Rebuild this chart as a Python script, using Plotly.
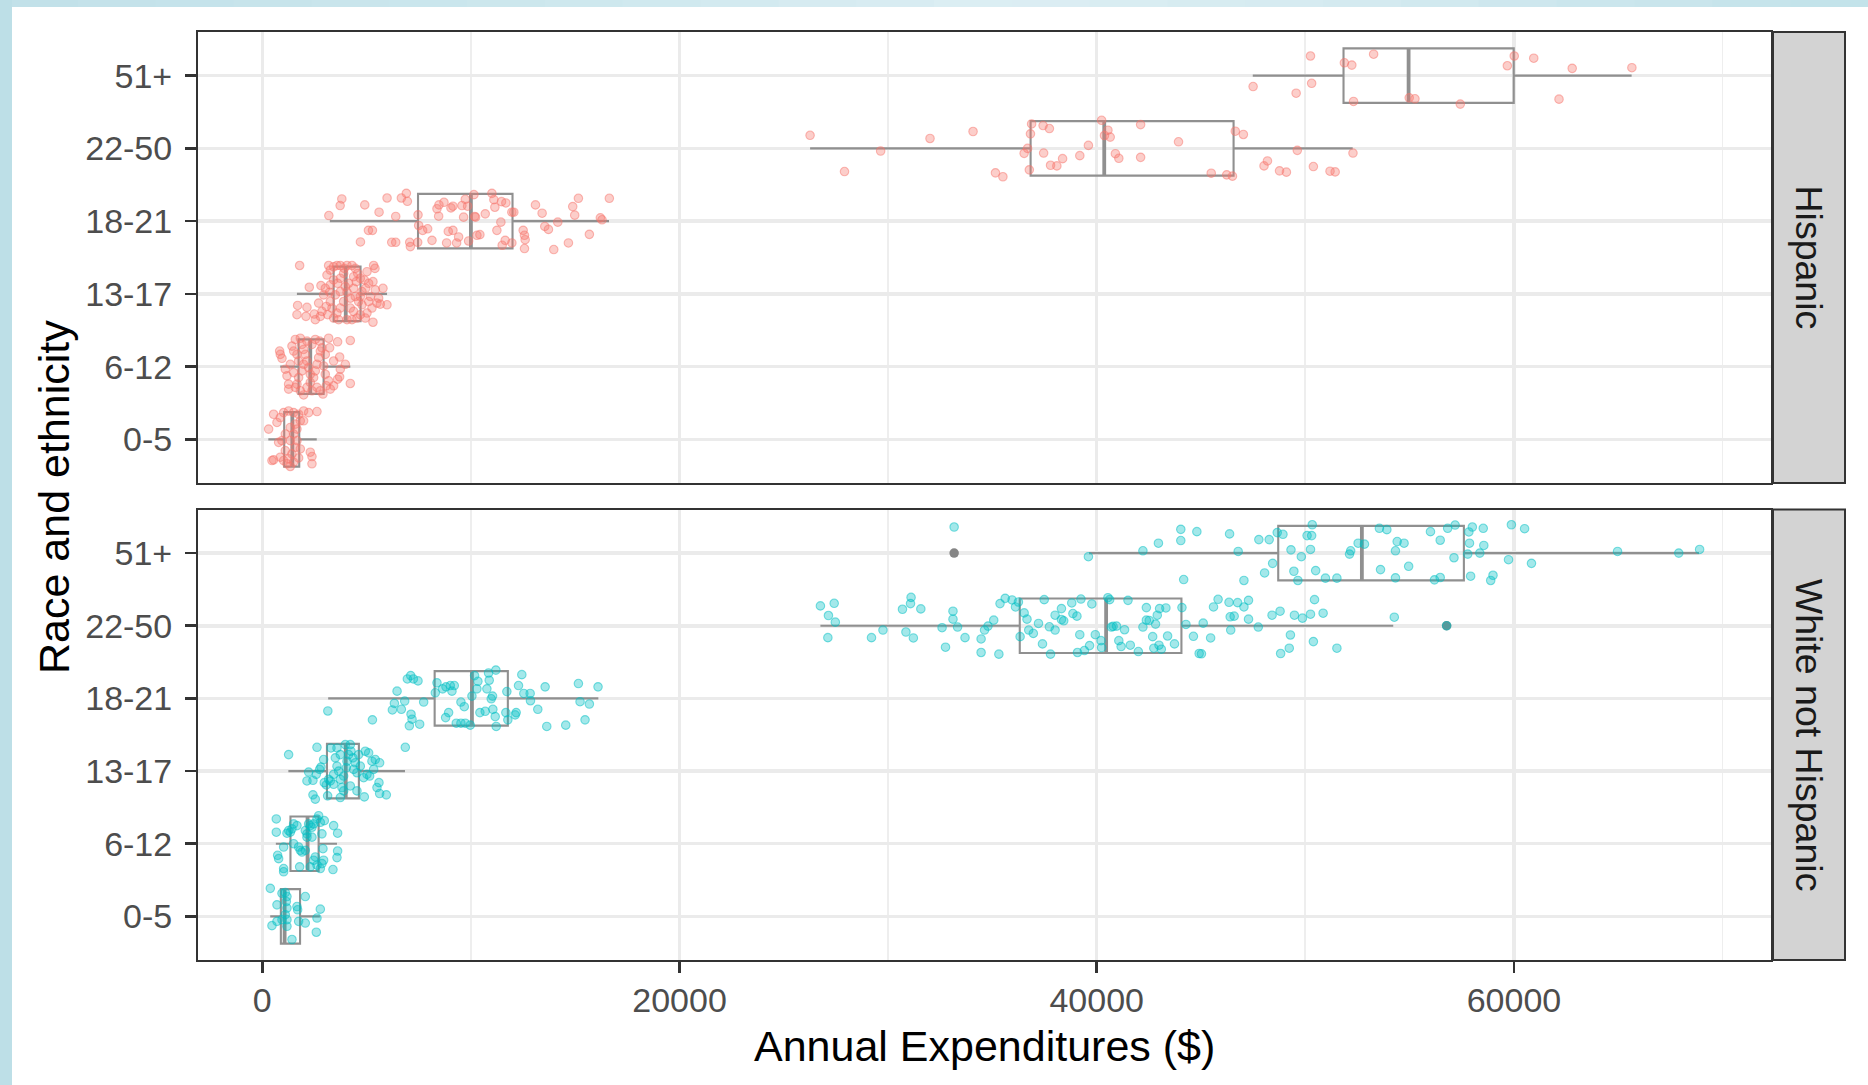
import plotly.graph_objects as go

# ---------------- data ----------------
age_groups = ["0-5", "6-12", "13-17", "18-21", "22-50", "51+"]
x_tick_vals = [0, 20000, 40000, 60000]
x_minor_vals = [10000, 30000, 50000, 70000]
facet_labels = ["Hispanic", "White not Hispanic"]

# box-plot statistics (per age cohort, in order of age_groups)
hisp_q1 = [1050, 1740, 3420, 7465, 36830, 51830]
hisp_med = [1440, 2300, 4000, 10000, 40360, 54950]
hisp_q3 = [1770, 2940, 4710, 11995, 46560, 59990]
hisp_lo = [290, 860, 1660, 3238, 26260, 47480]
hisp_hi = [2610, 4220, 5980, 16620, 52270, 65640]

white_q1 = [890, 1350, 3100, 8262, 36310, 48700]
white_med = [1070, 2170, 4000, 10049, 40450, 52710]
white_q3 = [1810, 2700, 4630, 11771, 44060, 57600]
white_lo = [380, 650, 1250, 3158, 26754, 39630]
white_hi = [2760, 3580, 6840, 16110, 54213, 68870]

white_outlier_exp = [33164, 56773]
white_outlier_age = ["51+", "22-50"]

# jittered individual consumers: expenditure ($) and vertical jitter (fraction of a row)
hisp_0_5_exp = [304, 543, 703, 863, 1023, 1262, 1502, 1742, 1982, 2221, 2621, 783, 943, 1103, 1342, 1502, 1662, 1582, 1422, 1262, 1183, 1023, 863, 543, 463, 1342, 1502, 1742, 1822, 2301, 2381, 2381, 1982, 1582, 1342, 1103, 1662, 1822]
hisp_0_5_jit = [0.141, 0.345, 0.232, 0.3, 0.368, 0.39, 0.368, 0.345, 0.39, 0.368, 0.382, -0.041, -0.018, 0.073, 0.164, 0.073, -0.018, -0.109, -0.2, -0.268, -0.336, -0.291, -0.245, -0.282, -0.291, -0.373, -0.314, -0.255, -0.132, -0.177, -0.236, -0.336, 0.255, 0.209, -0.018, -0.155, 0.141, 0.255]

hisp_6_12_exp = [831, 863, 943, 1103, 1183, 1262, 1262, 1422, 1502, 1582, 1662, 1742, 1822, 1902, 1982, 2061, 2141, 1982, 1902, 1742, 1662, 1582, 1822, 1982, 2141, 2301, 2461, 2541, 2621, 2701, 2781, 2749, 2860, 3020, 3180, 3228, 3420, 3611, 3707, 3739, 3707, 3611, 3420, 3260, 3068, 2908, 2781, 2621, 2381, 2301, 2221, 2940, 3020, 3180, 3979, 4219, 4219, 1342, 1502, 2141, 2381, 2541]
hisp_6_12_jit = [0.214, 0.168, 0.114, -0.036, -0.127, -0.241, -0.309, 0.282, 0.214, 0.373, 0.168, 0.077, 0.39, 0.305, 0.236, 0.168, 0.077, 0.032, -0.059, -0.15, -0.241, -0.286, -0.332, -0.39, -0.286, -0.218, -0.15, -0.059, 0.032, 0.123, 0.214, 0.35, 0.259, 0.168, 0.39, 0.259, 0.077, 0.341, 0.132, -0.036, -0.141, -0.173, -0.264, -0.309, -0.264, -0.377, -0.332, -0.286, -0.332, -0.105, -0.014, 0.009, -0.105, -0.195, 0.032, 0.359, -0.232, 0.032, -0.082, 0.35, 0.305, 0.373]

hisp_13_17_exp = [1790, 2253, 1694, 2141, 1662, 2093, 2493, 2541, 2781, 2860, 3068, 3132, 2812, 3020, 3100, 3260, 3180, 3420, 3580, 3739, 3931, 4059, 4299, 4458, 4570, 4698, 4890, 5098, 5305, 5401, 5337, 5018, 5417, 5785, 5577, 5497, 5657, 5977, 5257, 5018, 4938, 5305, 4698, 4538, 4219, 4219, 3899, 3739, 3580, 3420, 3260, 3500, 3739, 3979, 4139, 4379, 4458, 4778, 4618, 3739, 3420, 3260, 3659, 4059, 4379, 2940, 2701, 3340, 4698, 5178, 3899, 4379, 4778, 5098, 4299, 3228, 3611, 4059, 4506, 4954]
hisp_13_17_jit = [0.39, 0.091, -0.159, -0.186, -0.286, -0.309, -0.277, -0.355, -0.309, -0.241, -0.173, -0.286, 0.114, 0.077, 0.259, 0.327, 0.39, 0.373, 0.39, 0.39, 0.35, 0.39, 0.39, 0.35, 0.282, 0.214, 0.191, 0.145, 0.168, 0.35, 0.39, 0.305, 0.055, 0.077, -0.059, -0.127, -0.141, -0.15, -0.195, -0.264, -0.332, -0.39, -0.286, -0.332, -0.195, -0.059, -0.105, -0.195, -0.264, -0.332, -0.105, -0.014, 0.032, 0.1, 0.145, 0.077, -0.036, 0.032, -0.105, 0.214, 0.191, 0.123, -0.355, -0.355, -0.241, -0.014, -0.127, -0.195, -0.036, -0.036, 0.282, 0.236, -0.15, -0.105, -0.355, 0.023, 0.145, 0.023, 0.168, 0.077]

hisp_18_21_exp = [3812, 3732, 3190, 4913, 5598, 5981, 6396, 6667, 6906, 6954, 7465, 5088, 5279, 4705, 6205, 6396, 7066, 7098, 7449, 7688, 7927, 8454, 8469, 8709, 9044, 9139, 9570, 9730, 9841, 10144, 10176, 10224, 10288, 10431, 9889, 8916, 9139, 8836, 9315, 11006, 11101, 11149, 11468, 11675, 11963, 12058, 11436, 11963, 11500, 12505, 12569, 12601, 12569, 13095, 13414, 14164, 13542, 13717, 14881, 15153, 14977, 15679, 14674, 13972, 16205, 16285, 16636, 7497, 8374, 9650, 10687, 11245, 11644, 9411, 8135]
hisp_18_21_jit = [0.305, 0.214, 0.077, 0.223, 0.123, 0.318, 0.064, 0.318, 0.382, 0.273, 0.086, -0.127, -0.127, -0.286, -0.291, -0.291, -0.291, -0.35, -0.291, -0.127, -0.105, 0.068, 0.223, 0.259, 0.182, 0.205, 0.214, 0.3, 0.205, 0.364, 0.064, 0.055, -0.195, -0.186, -0.273, -0.141, -0.127, -0.3, -0.3, 0.382, 0.295, 0.191, 0.268, 0.25, 0.123, 0.123, -0.014, -0.3, -0.332, -0.127, -0.195, -0.255, -0.377, 0.223, 0.109, -0.014, -0.073, -0.114, 0.2, 0.314, 0.082, -0.182, -0.3, -0.391, 0.045, 0.018, 0.314, -0.06, 0.17, 0.055, 0.1, -0.127, -0.264, -0.218, -0.264]

hisp_22_50_exp = [26259, 27909, 29642, 32008, 34071, 35145, 35502, 36520, 36685, 36823, 36878, 36768, 37428, 37731, 37455, 37786, 38088, 38363, 39189, 39601, 40234, 40371, 40536, 40646, 40894, 41059, 42104, 42104, 43920, 45488, 46231, 46506, 46643, 47029, 48019, 48184, 48762, 49092, 49614, 50385, 51183, 51430, 52283]
hisp_22_50_jit = [0.18, -0.318, -0.036, 0.136, 0.232, -0.336, -0.39, -0.068, 0.0, 0.2, 0.336, -0.295, 0.314, 0.273, -0.064, -0.232, -0.241, -0.141, -0.1, 0.041, 0.386, 0.177, 0.25, 0.155, -0.073, -0.136, 0.327, -0.123, 0.091, -0.341, -0.364, -0.382, 0.236, 0.191, -0.241, -0.173, -0.309, -0.327, -0.027, -0.25, -0.314, -0.323, -0.064]

hisp_51_exp = [50247, 53273, 51871, 52228, 60014, 60949, 59683, 62792, 65653, 47496, 49559, 50302, 52310, 54979, 55254, 57427, 62160]
hisp_51_jit = [0.27, 0.295, 0.177, 0.145, 0.27, 0.24, 0.136, 0.1, 0.109, -0.15, -0.241, -0.105, -0.355, -0.305, -0.318, -0.391, -0.323]

white_0_5_exp = [384, 703, 943, 1103, 1183, 1183, 1103, 1183, 1183, 463, 703, 943, 1422, 1662, 1694, 1742, 2061, 2061, 2621, 2781, 2589, 1151]
white_0_5_jit = [0.386, 0.159, 0.318, 0.327, 0.273, 0.114, 0.023, -0.136, -0.045, -0.127, -0.068, -0.045, -0.318, 0.136, 0.091, -0.068, -0.091, 0.273, -0.023, 0.1, -0.218, 0.205]

white_6_12_exp = [671, 671, 1023, 735, 783, 1023, 1023, 1183, 1262, 1342, 1422, 1502, 1662, 1742, 1822, 1902, 1790, 2061, 2061, 2221, 2301, 2381, 2461, 2621, 2701, 2781, 2860, 2972, 2908, 2940, 2860, 2781, 2621, 2461, 2541, 2301, 2381, 2141, 3420, 3611, 3611, 3580, 3388, 2141, 1502]
white_6_12_jit = [0.341, 0.159, -0.045, -0.159, -0.205, -0.341, -0.386, 0.145, 0.182, 0.159, 0.205, 0.273, 0.25, -0.045, -0.091, -0.114, -0.318, -0.091, 0.182, 0.273, 0.25, 0.227, 0.273, 0.341, 0.386, 0.295, 0.136, 0.318, -0.068, -0.227, -0.273, -0.341, -0.295, -0.227, -0.182, -0.318, 0.091, 0.136, 0.25, 0.145, -0.1, -0.191, -0.355, 0.091, 0.0]

white_13_17_exp = [1262, 2621, 3292, 3979, 4938, 5098, 5257, 5417, 5625, 6855, 2940, 2812, 2749, 2221, 2141, 2429, 3068, 2972, 3260, 3420, 3580, 3659, 3739, 3819, 3899, 4027, 4059, 4139, 4251, 4347, 4458, 4538, 4618, 4698, 4858, 5018, 5146, 5337, 5497, 5625, 5945, 5593, 4890, 3739, 3132, 2541, 2429, 2589, 3180, 3500, 4219, 4379, 3739, 3420, 3899, 4538, 4219, 3580]
white_13_17_jit = [0.227, 0.327, 0.318, 0.364, 0.273, 0.25, 0.136, 0.159, 0.114, 0.327, 0.159, 0.055, 0.023, -0.014, -0.136, -0.127, -0.191, -0.159, -0.136, -0.182, 0.068, 0.0, -0.114, -0.227, -0.068, 0.045, 0.136, 0.227, 0.273, 0.182, 0.114, -0.023, 0.227, 0.068, -0.091, -0.045, -0.068, 0.023, -0.227, -0.309, -0.327, -0.159, -0.355, -0.364, -0.341, -0.386, -0.327, -0.045, -0.114, 0.182, -0.205, 0.023, 0.227, -0.045, -0.273, -0.273, 0.364, 0.318]

white_18_21_exp = [3142, 5279, 6236, 6332, 6460, 6667, 6827, 7050, 7130, 7178, 7544, 6954, 7114, 7241, 7465, 7736, 8294, 8374, 8645, 8804, 9012, 9092, 9203, 8932, 8788, 9299, 9522, 9730, 9969, 9522, 9682, 10049, 10176, 10336, 10288, 10431, 10687, 10766, 10878, 10974, 11037, 11053, 11197, 11165, 11213, 11675, 11723, 11771, 12122, 12170, 12441, 12282, 12537, 12840, 12856, 13207, 13558, 13637, 14546, 15153, 15232, 15679, 15472, 16094, 10846]
white_18_21_jit = [-0.173, -0.295, -0.159, -0.068, 0.1, -0.15, -0.036, -0.377, -0.218, -0.286, -0.355, 0.268, 0.314, 0.268, 0.241, -0.05, 0.077, 0.214, 0.132, 0.159, 0.177, 0.1, 0.177, -0.195, -0.264, -0.341, -0.341, -0.341, -0.368, -0.05, -0.114, 0.032, 0.314, 0.236, 0.132, -0.195, -0.177, 0.132, 0.25, -0.005, 0.032, -0.15, 0.39, -0.25, -0.386, -0.195, 0.095, -0.295, -0.227, -0.195, 0.327, 0.177, 0.068, 0.068, -0.032, -0.15, 0.159, -0.386, -0.368, 0.205, -0.045, -0.077, -0.295, 0.159, 0.35]

white_22_50_exp = [26754, 27139, 27469, 27414, 27111, 29202, 29752, 30688, 31073, 31100, 31568, 30853, 31210, 33109, 33109, 33329, 32586, 32751, 33686, 34457, 34457, 35309, 34622, 34787, 35062, 35364, 35612, 35942, 36107, 36245, 36327, 36520, 36657, 36740, 36960, 37208, 37483, 37400, 37730, 37785, 38005, 38005, 38308, 38308, 38418, 38803, 38858, 39051, 39243, 39188, 39078, 39408, 39656, 39766, 39931, 40206, 40234, 40536, 40619, 40701, 40784, 40949, 41059, 41169, 41334, 41499, 41609, 41994, 42214, 42379, 42379, 42517, 42819, 42902, 43012, 42985, 42682, 42737, 43095, 43315, 43397, 43727, 44085, 44277, 44635, 44910, 45020, 45103, 45460, 45598, 45818, 46341, 46753, 47056, 46396, 46423, 46588, 47276, 47276, 47744, 48404, 48789, 49284, 49229, 48816, 49477, 49862, 50247, 50385, 50440, 50852, 51513, 54264, 56773]
white_22_50_jit = [0.273, 0.141, 0.05, 0.309, -0.164, -0.164, -0.059, 0.227, 0.305, 0.39, 0.232, -0.086, -0.168, 0.2, 0.091, -0.018, -0.027, -0.295, -0.164, -0.182, -0.368, -0.391, -0.059, -0.005, 0.077, 0.305, 0.377, 0.355, 0.259, 0.327, -0.15, 0.177, 0.091, -0.059, -0.105, 0.032, 0.359, -0.25, -0.014, -0.391, -0.059, 0.145, 0.236, 0.086, 0.068, 0.314, 0.168, 0.132, 0.368, -0.123, -0.368, -0.341, -0.273, 0.3, -0.123, -0.205, -0.3, 0.386, 0.359, -0.018, -0.009, -0.005, -0.205, -0.286, -0.055, 0.35, -0.268, -0.355, -0.018, 0.25, 0.077, 0.073, 0.023, 0.145, 0.236, -0.268, -0.15, -0.309, -0.323, 0.245, -0.141, -0.25, 0.25, 0.018, -0.145, -0.382, -0.386, 0.036, -0.168, 0.259, 0.364, 0.323, 0.318, 0.259, 0.123, -0.059, 0.132, 0.35, 0.091, -0.018, 0.145, 0.2, -0.127, -0.309, -0.382, 0.145, 0.105, 0.159, -0.218, 0.359, 0.173, -0.309, 0.118, 0.0]

white_51_exp = [33164, 39601, 42214, 42957, 44030, 44030, 44800, 46368, 46781, 47056, 44168, 47771, 48267, 48432, 48047, 48652, 48927, 49312, 49450, 49643, 49808, 50083, 50303, 50248, 50330, 50495, 50963, 51513, 52118, 52173, 52531, 52834, 53549, 53907, 54320, 54402, 54732, 53604, 54320, 54952, 55998, 56465, 56823, 57180, 57125, 56190, 56465, 57840, 58005, 58528, 57868, 58555, 57785, 58363, 57923, 58886, 58996, 59739, 59877, 60510, 60840, 64966, 67900, 68900]
white_51_jit = [0.359, -0.05, 0.032, 0.136, 0.327, 0.173, 0.295, 0.264, 0.023, -0.377, -0.364, 0.186, 0.186, -0.141, -0.273, 0.282, 0.259, 0.045, -0.25, -0.377, -0.05, 0.241, 0.241, 0.05, 0.39, -0.241, -0.345, -0.345, -0.014, 0.032, 0.136, 0.123, 0.341, 0.323, 0.032, 0.159, 0.136, -0.227, -0.341, -0.182, 0.295, 0.177, 0.341, 0.386, -0.064, -0.368, -0.336, 0.291, 0.359, 0.341, 0.136, 0.105, -0.014, 0.0, -0.318, -0.377, -0.305, -0.091, 0.39, 0.336, -0.141, 0.023, 0.0, 0.05]

hisp_points = [(hisp_0_5_exp, hisp_0_5_jit), (hisp_6_12_exp, hisp_6_12_jit), (hisp_13_17_exp, hisp_13_17_jit),
               (hisp_18_21_exp, hisp_18_21_jit), (hisp_22_50_exp, hisp_22_50_jit), (hisp_51_exp, hisp_51_jit)]
white_points = [(white_0_5_exp, white_0_5_jit), (white_6_12_exp, white_6_12_jit), (white_13_17_exp, white_13_17_jit),
                (white_18_21_exp, white_18_21_jit), (white_22_50_exp, white_22_50_jit), (white_51_exp, white_51_jit)]

# ---------------- styling ----------------
FONT = "Liberation Sans, Arial, Helvetica, sans-serif"
BOX_COL = "#909090"
GRID = "#ebebeb"
BORDER = "#333333"
BOX_W = 0.75

W, H = 1868, 1085
ML, MR, MT, MB = 198, 97, 32, 125
PW, PH = W - ML - MR, H - MT - MB


def px_x(p):
    return (p - ML) / PW


def px_y(p):
    return (H - MB - p) / PH


TOP_DOM = [px_y(483), 1.0]
BOT_DOM = [0.0, px_y(509.5)]

fig = go.Figure()


def add_panel(xa, ya, q1, med, q3, lo, hi, points, rgb, out_x=None, out_age=None):
    pos = list(range(len(age_groups)))
    fig.add_trace(go.Box(
        y=pos, q1=q1, median=med, q3=q3, lowerfence=lo, upperfence=hi,
        orientation="h", width=BOX_W, whiskerwidth=0, boxpoints=False,
        fillcolor="rgba(0,0,0,0)", line=dict(color=BOX_COL, width=2.1),
        xaxis=xa, yaxis=ya, showlegend=False, hoverinfo="skip"))
    mx, my = [], []
    for i, m in enumerate(med):
        mx += [m, m, None]
        my += [i - BOX_W / 2, i + BOX_W / 2, None]
    fig.add_trace(go.Scatter(x=mx, y=my, mode="lines", line=dict(color=BOX_COL, width=3.8),
                             xaxis=xa, yaxis=ya, showlegend=False, hoverinfo="skip"))
    if out_x:
        fig.add_trace(go.Scatter(
            x=out_x, y=[age_groups.index(a) for a in out_age], mode="markers",
            marker=dict(size=9.5, color="#858585", line=dict(width=0)),
            xaxis=xa, yaxis=ya, showlegend=False, hoverinfo="skip"))
    xs, ys = [], []
    for i, (ex, jt) in enumerate(points):
        for e, j in zip(ex, jt):
            xs.append(e)
            ys.append(i + j)
    fig.add_trace(go.Scatter(
        x=xs, y=ys, mode="markers",
        marker=dict(size=8.5, color="rgba(%d,%d,%d,0.36)" % rgb,
                    line=dict(width=1.1, color="rgba(%d,%d,%d,0.5)" % rgb)),
        xaxis=xa, yaxis=ya, showlegend=False, hoverinfo="skip"))


add_panel("x", "y", hisp_q1, hisp_med, hisp_q3, hisp_lo, hisp_hi, hisp_points, (248, 118, 109))
add_panel("x2", "y2", white_q1, white_med, white_q3, white_lo, white_hi, white_points, (0, 191, 196),
          white_outlier_exp, white_outlier_age)

xrange = [-3082, 72322]
yrange = [-0.6, 5.6]

common_x = dict(range=xrange, tickmode="array", tickvals=x_tick_vals, tickformat="d",
                showgrid=True, gridcolor=GRID, gridwidth=3.5, zeroline=False,
                minor=dict(tickmode="array", tickvals=x_minor_vals, showgrid=True,
                           gridcolor="#eeeeee", gridwidth=1.8, ticks=""),
                showline=True, mirror=True, linecolor=BORDER, linewidth=2)
common_y = dict(range=yrange, tickmode="array", tickvals=list(range(len(age_groups))), ticktext=age_groups,
                showgrid=True, gridcolor=GRID, gridwidth=3.5, zeroline=False,
                ticks="outside", ticklen=11, tickwidth=2.6, tickcolor=BORDER,
                tickfont=dict(family=FONT, size=34, color="#4d4d4d"), ticklabelstandoff=6,
                showline=True, mirror=True, linecolor=BORDER, linewidth=2)

fig.update_layout(
    width=W, height=H,
    margin=dict(l=ML, r=MR, t=MT, b=MB, autoexpand=False),
    paper_bgcolor="white", plot_bgcolor="white",
    font=dict(family=FONT),
    showlegend=False,
    xaxis=dict(domain=[0, 1], anchor="y", showticklabels=False, ticks="", **common_x),
    xaxis2=dict(domain=[0, 1], anchor="y2", matches="x", showticklabels=True, ticks="outside",
                ticklen=11, tickwidth=2.6, tickcolor=BORDER, ticklabelstandoff=-2,
                tickfont=dict(family=FONT, size=34, color="#4d4d4d"), **common_x),
    yaxis=dict(domain=TOP_DOM, anchor="x", **common_y),
    yaxis2=dict(domain=BOT_DOM, anchor="x2", **common_y),
)

# page frame (light blue band on top and left)
frame_stops = [(0, (193, 225, 233)), (600, (206, 232, 238)), (1000, (220, 238, 243)),
               (1350, (212, 234, 240)), (1868, (194, 226, 234))]
shapes = []
seg = 24
for k in range(seg):
    a = W * k / seg
    b = W * (k + 1) / seg
    mid = (a + b) / 2
    for (p0, c0), (p1, c1) in zip(frame_stops[:-1], frame_stops[1:]):
        if p0 <= mid <= p1:
            t = (mid - p0) / (p1 - p0)
            col = tuple(round(c0[i] + (c1[i] - c0[i]) * t) for i in range(3))
            break
    shapes.append(dict(type="rect", xref="paper", yref="paper", layer="below",
                       x0=px_x(a), x1=px_x(b + 1), y0=px_y(7), y1=px_y(0),
                       fillcolor="rgb(%d,%d,%d)" % col, line=dict(width=0)))
shapes.append(dict(type="rect", xref="paper", yref="paper", layer="below",
                   x0=px_x(0), x1=px_x(12), y0=px_y(H), y1=px_y(0),
                   fillcolor="#bddfe7", line=dict(width=0)))

# facet strips
annotations = []
for label, dom in zip(facet_labels, [TOP_DOM, BOT_DOM]):
    shapes.append(dict(type="rect", xref="paper", yref="paper",
                       x0=px_x(1773), x1=px_x(1845), y0=dom[0], y1=dom[1],
                       fillcolor="#d3d3d3", line=dict(color=BORDER, width=2)))
    annotations.append(dict(text=label, xref="paper", yref="paper",
                            x=(px_x(1773) + px_x(1845)) / 2, y=(dom[0] + dom[1]) / 2,
                            xanchor="center", yanchor="middle", textangle=90, showarrow=False,
                            font=dict(family=FONT, size=37.5, color="#1a1a1a")))

annotations.append(dict(text="Annual Expenditures ($)", xref="paper", yref="paper",
                        x=0.5, y=px_y(1046), xanchor="center", yanchor="middle", showarrow=False,
                        font=dict(family=FONT, size=43, color="black")))
annotations.append(dict(text="Race and ethnicity", xref="paper", yref="paper",
                        x=px_x(54), y=px_y(497), xanchor="center", yanchor="middle", textangle=-90,
                        showarrow=False, font=dict(family=FONT, size=43, color="black")))

fig.update_layout(shapes=shapes, annotations=annotations)

# remove the default page margin so the figure sits at the window's top-left corner
fig.write_html("out.html", config={"displayModeBar": False, "staticPlot": True},
               post_script="document.body.style.margin='0';document.body.style.overflow='hidden';")
